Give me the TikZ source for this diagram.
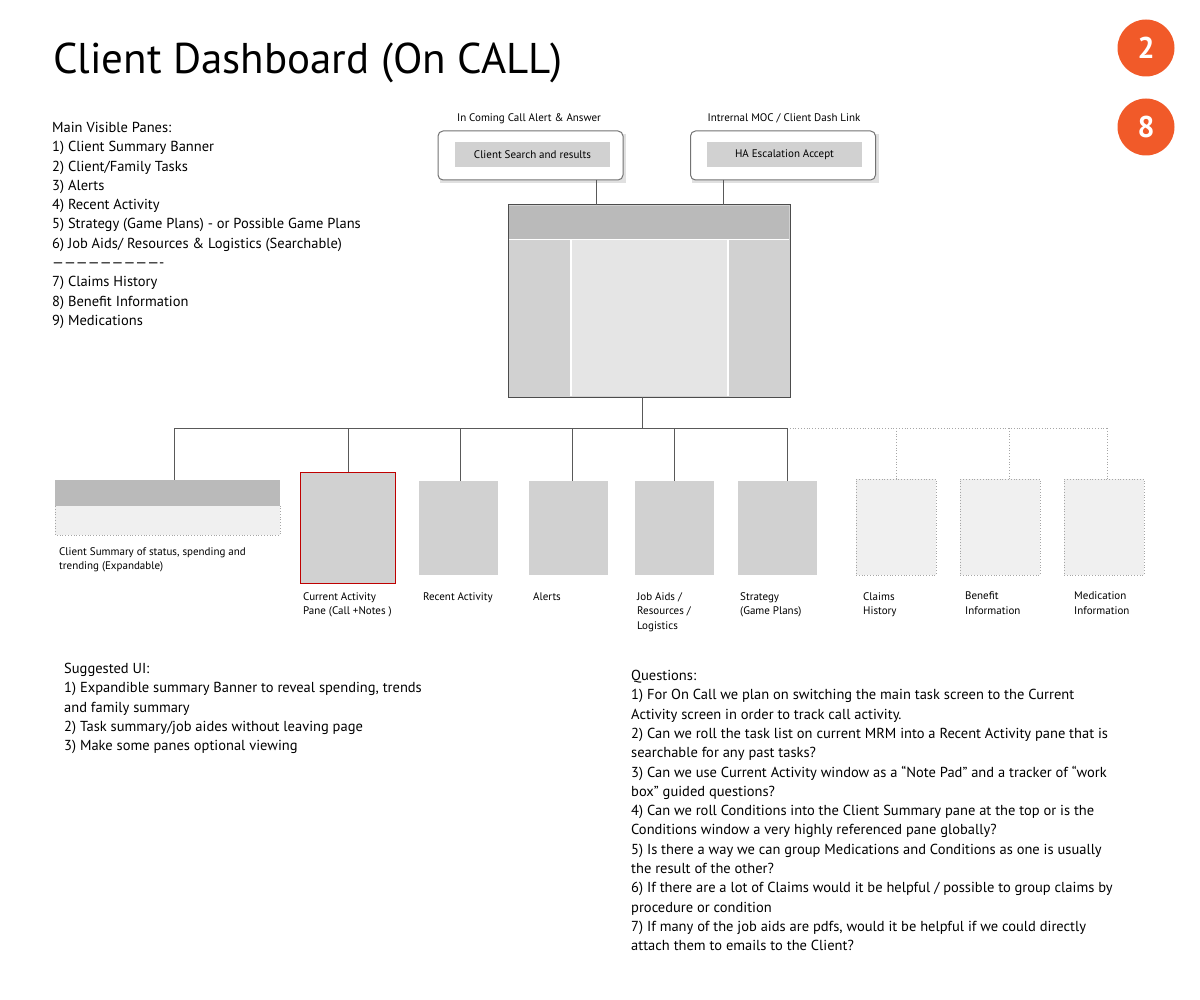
\documentclass[tikz,border=0pt]{standalone}
\usepackage{fontspec}
\setmainfont{PT Sans}
\definecolor{badgeor}{RGB}{241,90,41}
\begin{document}
\begin{tikzpicture}[x=1pt,y=-1pt,
 body/.style={anchor=north west,inner sep=0,font=\fontsize{14.5}{19.3}\selectfont,align=left},
 small/.style={anchor=north west,inner sep=0,font=\fontsize{11}{14.5}\selectfont,align=left},
 lnk/.style={draw=black!65,line width=0.8pt},
 dlnk/.style={draw=black!35,line width=0.8pt,dotted},
 pane/.style={fill=gray!35!white,draw=none},
 opt/.style={fill=black!6,draw=black!35,dotted,line width=0.8pt},
 badge/.style={circle,fill=badgeor,minimum size=57pt,inner sep=0,text=white,font=\fontsize{30}{30}\selectfont\bfseries},
 card/.style={draw=black!55,rounded corners=5pt,fill=white,line width=1pt,minimum width=185pt,minimum height=49pt},
 inner/.style={fill=black!18,minimum width=155pt,minimum height=25pt,inner sep=0,font=\fontsize{11}{13}\selectfont}]
\useasboundingbox (0,0) rectangle (1200,1000);
\node[anchor=base west,inner sep=0,font=\fontsize{43}{43}\selectfont] (title) at (53,74) {Client Dashboard (On CALL)};
\node[badge] (b2) at (1146,48) {2};
\node[badge] (b8) at (1146,127) {8};
\node[body] (list) at (52,122) {Main Visible Panes:\\1) Client Summary Banner\\2) Client/Family Tasks\\3) Alerts\\4) Recent Activity\\5) Strategy (Game Plans) - or Possible Game Plans\\6) Job Aids/ Resources \& Logistics (Searchable)\\----------------------------\\7) Claims History\\8) Benefit Information\\9) Medications};
% top cards
\fill[black!12] (440,134) rectangle (626,183);
\fill[black!12] (692,134) rectangle (879,183);
\node[card] (c1) at (530.5,155.5) {};
\node[card] (c2) at (783,155.5) {};
\node[inner] (i1) at (532.5,154.5) {Client Search and results};
\node[inner] (i2) at (784.5,154.5) {HA Escalation Accept};
\node[anchor=base,inner sep=0,font=\fontsize{11}{13}\selectfont] (l1) at (529,122) {In Coming Call Alert \& Answer};
\node[anchor=base,inner sep=0,font=\fontsize{11}{13}\selectfont] (l2) at (784,122) {Intrernal MOC / Client Dash Link};
% main box
\node[draw=black!70,line width=1pt,fill=black!18,minimum width=282pt,minimum height=192pt,inner sep=0] (main) at (649,301) {};
\fill[black!27] (509,206) rectangle (789,239);
\fill[black!10] (572,240) rectangle (727,396);
\draw[white,line width=1.2pt] (509,239.5)--(789,239.5) (571,240)--(571,396) (728,240)--(728,396);
\coordinate (t1) at (596,180); \coordinate (t2) at (723,180);
\draw[lnk] (t1)--(596,205) (t2)--(723,205);
% tree
\coordinate (m) at (642,397);
\draw[lnk] (m)--(642,428) (174,428)--(787,428);
\draw[dlnk] (787,428)--(1107,428);
% panes
\fill[black!27] (55,480) rectangle (280,506);
\fill[black!6] (55,506) rectangle (280,535);
\draw[dlnk] (55,506)--(55,535)--(280,535)--(280,506);
\node[draw=red!75!black,fill=black!18,line width=0.8pt,minimum width=95pt,minimum height=111pt,inner sep=0] (cur) at (347.5,527.5) {};
\node[pane,minimum width=79pt,minimum height=94pt,inner sep=0,fill=black!18] (rec) at (458.5,528) {};
\node[pane,minimum width=79pt,minimum height=94pt,inner sep=0,fill=black!18] (ale) at (568.5,528) {};
\node[pane,minimum width=79pt,minimum height=94pt,inner sep=0,fill=black!18] (job) at (674.5,528) {};
\node[pane,minimum width=79pt,minimum height=94pt,inner sep=0,fill=black!18] (str) at (777.5,528) {};
\node[opt,minimum width=80pt,minimum height=96pt,inner sep=0] (cla) at (896,527) {};
\node[opt,minimum width=80pt,minimum height=96pt,inner sep=0] (ben) at (1000,527) {};
\node[opt,minimum width=80pt,minimum height=96pt,inner sep=0] (med) at (1104,527) {};
\draw[lnk] (174,428)--(174,480) (348,428)--(cur.north-|348,0) (460,428)--(rec.north-|460,0) (572,428)--(ale.north-|572,0) (674,428)--(job.north-|674,0) (787,428)--(str.north-|787,0);
\draw[dlnk] (896,428)--(cla.north) (1009,428)--(1009,479) (1107,428)--(1107,479);
% labels
\node[small] (lcs) at (59,547) {Client Summary of status, spending and\\trending (Expandable)};
\node[small] (lcu) at (303,592) {Current Activity\\Pane (Call +Notes )};
\node[small] (lre) at (423,592) {Recent Activity};
\node[small] (lal) at (533,592) {Alerts};
\node[small] (ljo) at (637,592) {Job Aids /\\Resources /\\Logistics};
\node[small] (lst) at (740,592) {Strategy\\(Game Plans)};
\node[small] (lcl) at (863,592) {Claims\\History};
\node[small] (lbe) at (965,592) {Benefit\\Information};
\node[small] (lme) at (1074,592) {Medication\\Information};
\node[body] (sug) at (64,663) {Suggested UI:\\1) Expandible summary Banner to reveal spending, trends\\and family summary\\2) Task summary/job aides without leaving page\\3) Make some panes optional viewing};
\node[body] (q) at (631,670) {Questions:\\1) For On Call we plan on switching the main task screen to the Current\\Activity screen in order to track call activity.\\2) Can we roll the task list on current MRM into a Recent Activity pane that is\\searchable for any past tasks?\\3) Can we use Current Activity window as a ``Note Pad'' and a tracker of ``work\\box'' guided questions?\\4) Can we roll Conditions into the Client Summary pane at the top or is the\\Conditions window a very highly referenced pane globally?\\5) Is there a way we can group Medications and Conditions as one is usually\\the result of the other?\\6) If there are a lot of Claims would it be helpful / possible to group claims by\\procedure or condition\\7) If many of the job aids are pdfs, would it be helpful if we could directly\\attach them to emails to the Client?};
\end{tikzpicture}
\end{document}
